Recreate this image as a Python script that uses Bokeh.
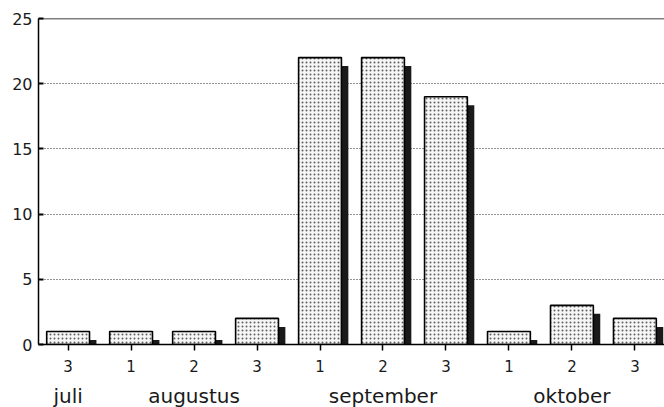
from bokeh.plotting import figure
from bokeh.models import FixedTicker, LinearAxis, Span, Range1d
from bokeh.embed import file_html
from bokeh.resources import INLINE

# ---- data ----
decades = ["3", "1", "2", "3", "1", "2", "3", "1", "2", "3"]
values = [1, 1, 1, 2, 22, 22, 19, 1, 3, 2]
months = ["juli", "augustus", "september", "oktober"]
month_sizes = [1, 3, 3, 3]
y_ticks = [0, 5, 10, 15, 20, 25]

xs = list(range(len(values)))
centers = []
start = 0
for n in month_sizes:
    centers.append(start + (n - 1) / 2)
    start += n

FONT = "DejaVu Sans"
BAR_W = 0.68
SH_DX = 0.11   # shadow shift (style)
SH_DY = 0.65   # shadow drop (style)

p = figure(frame_width=626, frame_height=326,
           min_border_left=38, min_border_right=0, min_border_top=18, min_border_bottom=2,
           x_range=Range1d(-0.47, 9.47), y_range=Range1d(0, 25),
           output_backend="svg", toolbar_location=None,
           background_fill_color="white", border_fill_color="white")
p.outline_line_color = None

# grid
p.xgrid.visible = False
p.ygrid.ticker = FixedTicker(ticks=y_ticks[1:-1])
p.ygrid.grid_line_color = "black"
p.ygrid.grid_line_dash = "1 2"
p.ygrid.grid_line_width = 1
p.ygrid.grid_line_alpha = 0.85

# shadows
p.vbar(x=[x + SH_DX for x in xs], top=[v - SH_DY for v in values], width=BAR_W,
       fill_color="#1a1a1a", line_color=None)
# bars
p.vbar(x=xs, top=values, width=BAR_W, fill_color="#f6f6f6",
       line_color="black", line_width=1.6,
       hatch_pattern="dot", hatch_scale=4, hatch_color="#606060", hatch_weight=1)

# top border
p.add_layout(Span(location=25, dimension="width", line_color="black", line_width=1.5))

# y axis
ya = p.yaxis[0]
ya.ticker = FixedTicker(ticks=y_ticks)
ya.major_tick_in = 5
ya.major_tick_out = 0
ya.major_tick_line_width = 2
ya.minor_tick_line_color = None
ya.axis_line_width = 1.5
ya.major_label_text_font = FONT
ya.major_label_text_font_size = "16px"
ya.major_label_text_color = "#1a1a1a"
ya.major_label_standoff = 6

# x axis (decades)
xa = p.xaxis[0]
xa.ticker = FixedTicker(ticks=xs)
xa.major_label_overrides = {i: d for i, d in zip(xs, decades)}
xa.major_tick_in = 0
xa.major_tick_out = 6
xa.major_tick_line_width = 1.5
xa.minor_tick_line_color = None
xa.axis_line_width = 1.5
xa.major_label_text_font = FONT
xa.major_label_text_font_size = "15px"
xa.major_label_text_color = "#1a1a1a"
xa.major_label_standoff = 9

# month axis
ma = LinearAxis(ticker=FixedTicker(ticks=centers),
                major_label_overrides={c: m for c, m in zip(centers, months)},
                axis_line_color=None, major_tick_line_color=None,
                minor_tick_line_color=None, major_tick_out=0, major_tick_in=0,
                major_label_standoff=9,
                major_label_text_font=FONT, major_label_text_font_size="20px",
                major_label_text_color="#1a1a1a")
p.add_layout(ma, "below")

open("out.html", "w").write(file_html(p, INLINE))
